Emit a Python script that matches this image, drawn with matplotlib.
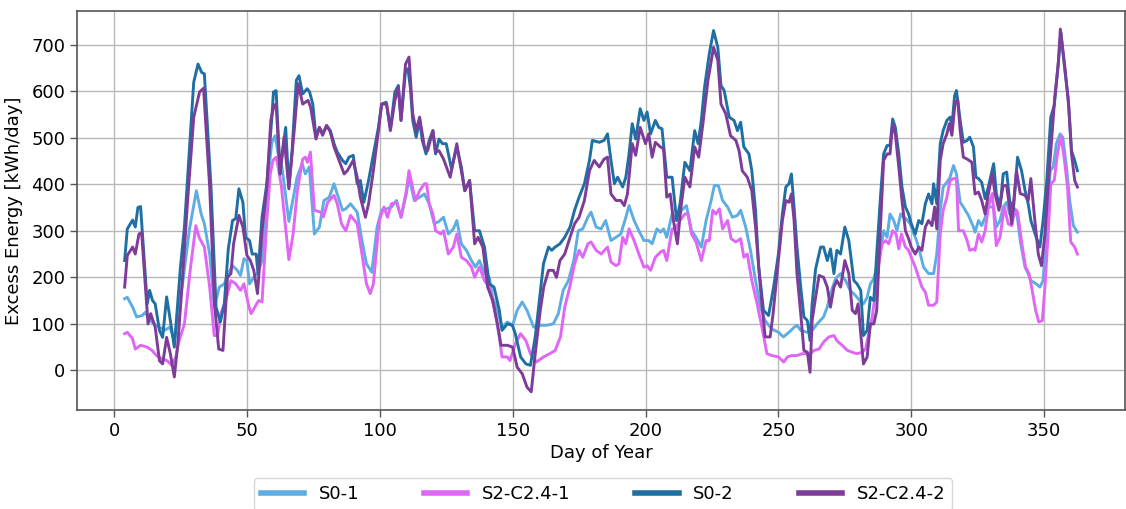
import matplotlib
matplotlib.use("Agg")
import matplotlib.pyplot as plt

# ---------------- data ----------------
labels = ["S0-1", "S2-C2.4-1", "S0-2", "S2-C2.4-2"]
colors = ["#5DADE2", "#E066F5", "#1F6FA3", "#7D3C98"]

s01_days = [4, 5, 7, 8.5, 10.6, 11.8, 13, 15, 17.1, 19, 21, 22.7, 25.8, 28.3, 31, 32.8, 34, 36, 37.8, 39.6,
            41.5, 43, 44.6, 46.4, 47.6, 48.9, 50, 51, 52.6, 54, 55.7, 57.5, 59.4, 60.6, 62, 63.2, 65.8, 68.9, 70.8, 72,
            73.5, 75.4, 77.3, 79, 81, 82.8, 84, 86, 87.2, 89, 91.5, 93.3, 95, 97, 99, 100.7, 102.6, 104.4, 106.3, 108,
            110, 111, 113, 115, 116.8, 118.6, 120.5, 122.3, 124, 125.8, 127.7, 129, 130.7, 132.6, 134.5, 136, 137.5, 139.4, 141.2, 142.5,
            144.3, 146, 148, 150, 151.7, 153.6, 155.4, 157.9, 160.4, 162.8, 165.3, 167.2, 169, 171, 173, 174.7, 176.4, 178.3, 179.5, 181.4,
            183.3, 185, 187, 188.9, 190.7, 192.6, 193.8, 195.7, 197.5, 199.4, 201.2, 202.5, 204.3, 205.6, 206.8, 208, 210, 211.7, 213.6, 215.4,
            217.3, 219, 221, 222.8, 224.7, 225.9, 227.4, 229, 230.9, 232.7, 234.6, 235.8, 237.7, 239.5, 241.4, 243.2, 245, 247.5, 250, 251.9,
            254, 256, 257, 258.4, 260.9, 262.7, 264.6, 267, 268.4, 269.6, 271.5, 273.4, 275.3, 277, 279, 281, 282, 283.4, 284.6, 285.9,
            287, 288.4, 289.6, 290.9, 292, 293.4, 294.6, 296, 297, 298, 299.6, 301, 302, 303.4, 304.6, 306.5, 308.4, 309.6, 310.9, 312,
            313.4, 314.6, 315.9, 317, 318.4, 319.6, 321.5, 323.4, 324, 325.3, 326.5, 327.8, 329, 331, 332, 333.4, 334.6, 335.9, 337, 338.4,
            339.6, 341, 342.8, 344, 345, 347, 348.4, 349.6, 351, 352.3, 353.4, 354.6, 356, 357, 358.4, 359.6, 361, 362.5]
s01_vals = [154, 157, 136, 115, 118, 125, 111, 100, 93, 86, 93, 64, 186, 300, 386, 336, 315, 250, 136, 179,
            186, 208, 225, 215, 204, 240, 236, 186, 200, 208, 236, 394, 490, 504, 458, 437, 320, 415, 444, 422,
            437, 293, 308, 365, 372, 401, 379, 344, 347, 358, 340, 279, 229, 211, 308, 344, 347, 351, 365, 329,
            379, 415, 365, 372, 379, 358, 315, 320, 329, 293, 304, 322, 272, 258, 236, 222, 236, 208, 200, 157,
            129, 93, 104, 97, 129, 147, 129, 93, 97, 97, 100, 122, 172, 193, 236, 300, 304, 329, 340, 308,
            304, 322, 279, 286, 293, 329, 354, 322, 300, 279, 279, 272, 304, 297, 304, 286, 336, 322, 344, 354,
            300, 286, 265, 322, 365, 397, 397, 365, 351, 329, 333, 344, 308, 258, 193, 136, 107, 89, 82, 72,
            82, 93, 97, 86, 82, 86, 100, 115, 136, 165, 197, 208, 193, 172, 161, 147, 143, 157, 186, 197,
            222, 258, 300, 286, 336, 322, 300, 336, 329, 326, 315, 293, 279, 250, 222, 208, 208, 250, 344, 394,
            404, 415, 440, 422, 361, 351, 333, 308, 297, 322, 311, 329, 351, 351, 308, 322, 351, 361, 336, 329,
            344, 279, 222, 208, 193, 186, 179, 193, 308, 429, 437, 487, 508, 501, 437, 365, 311, 297]

s2c1_days = [4, 5, 7, 8, 10, 12.5, 14.3, 16, 18, 20, 21.7, 23.3, 24.5, 26.5, 28.8, 30.8, 32, 34, 36, 37.7,
             39, 40.2, 42, 44, 45.8, 47.6, 48.9, 50.8, 51.6, 53, 54.4, 55.7, 57.5, 58.8, 59.8, 61, 62, 63, 65.8, 67.4,
             69, 71, 72, 72.8, 73.9, 75.4, 77.7, 78.8, 80.4, 82.8, 84, 85.6, 87.2, 89, 91.5, 93.3, 95, 96.4, 97.6, 99.8,
             101.6, 102.9, 104.4, 106.3, 108, 110, 111, 113.4, 115, 116.8, 117.6, 118.6, 120, 121, 123, 124, 125.8, 127.7, 129, 130.7,
             132.6, 134.5, 135.7, 137.5, 139.4, 141.2, 143, 145, 146, 148, 149, 151, 153, 155, 156.7, 159, 161.6, 164, 166, 168,
             169.6, 171.5, 173.3, 175, 176.4, 178.3, 179.5, 181.4, 183.3, 185.7, 187, 188.9, 190, 191.4, 192.6, 193.8, 195.7, 197.5, 199.4, 200.6,
             201.9, 203.7, 205.6, 206.8, 208, 210, 211.1, 213, 214.8, 216, 217.3, 219, 221, 222.8, 224, 225.3, 226.5, 227.8, 229, 230.9,
             232.2, 234, 235.8, 237, 238.3, 240, 242, 243.8, 245.7, 247.5, 250, 252, 253.4, 255, 257, 259, 260.9, 262, 263.4, 265.3,
             267, 269, 270.9, 272, 274, 276, 277.8, 279.6, 281.5, 282.8, 284, 285.3, 286.5, 287.8, 289, 290.3, 291.5, 293, 294.3, 295.3,
             296.3, 297.8, 299, 300, 301.5, 302.8, 304, 305.3, 306.5, 308.4, 309.6, 310.9, 312, 313.4, 314.6, 315.9, 317, 317.8, 319.6, 321,
             322, 323.4, 324, 325.3, 326.5, 327.8, 329, 330.5, 332, 333.4, 335, 336.5, 337.8, 339, 340, 341.8, 343, 344.3, 345.5, 346.8,
             348, 349.3, 350.3, 351.5, 352.5, 353.8, 355, 356.3, 357.5, 358.8, 360, 361.5, 362.5]
s2c1_vals = [79, 82, 68, 46, 54, 50, 43, 32, 25, 21, 11, 29, 64, 100, 222, 311, 286, 265, 179, 75,
             75, 122, 150, 193, 186, 172, 186, 136, 122, 136, 150, 147, 322, 422, 451, 458, 430, 394, 238, 293,
             386, 454, 458, 447, 469, 344, 340, 330, 361, 376, 358, 315, 300, 333, 315, 250, 186, 165, 186, 322,
             351, 329, 358, 361, 329, 386, 429, 365, 386, 401, 401, 358, 336, 300, 293, 300, 250, 265, 293, 243,
             236, 222, 200, 222, 193, 179, 136, 72, 29, 29, 21, 57, 79, 64, 36, 18, 29, 36, 43, 72,
             136, 179, 229, 258, 243, 272, 276, 258, 250, 265, 233, 225, 229, 286, 272, 304, 279, 250, 222, 225,
             215, 243, 254, 258, 236, 304, 304, 322, 336, 336, 293, 276, 236, 279, 279, 344, 336, 347, 304, 322,
             283, 276, 283, 243, 250, 193, 143, 93, 36, 32, 29, 18, 29, 32, 32, 36, 36, 36, 43, 46,
             61, 72, 75, 64, 54, 43, 39, 36, 39, 46, 79, 115, 165, 229, 272, 279, 272, 300, 293, 261,
             293, 265, 258, 243, 222, 200, 179, 168, 140, 140, 147, 293, 344, 372, 408, 412, 412, 300, 300, 279,
             258, 261, 258, 293, 276, 300, 351, 380, 268, 286, 351, 315, 311, 347, 340, 265, 222, 208, 172, 129,
             104, 107, 179, 293, 401, 408, 465, 504, 458, 394, 276, 265, 250]

s02_days = [4, 5, 7, 8, 9, 10, 12.5, 13.4, 14.5, 15.5, 17.1, 18.3, 19.8, 21.2, 22.7, 25, 26.5, 30, 31.6, 33,
            34, 36.5, 38.4, 40, 41.5, 43, 44.6, 45.8, 47, 48.5, 49.5, 51, 52, 53.5, 54.2, 55.7, 57.5, 59.4, 60, 61,
            62.5, 63, 64.6, 65.8, 67, 68.6, 69.6, 71, 72.7, 73.6, 74.8, 76, 77.3, 78.5, 80, 81.4, 82.8, 84, 86, 87.2,
            88.4, 90, 91.5, 92.7, 94, 95.8, 97.4, 99.5, 100.7, 102.4, 104, 105.7, 107, 108, 109.7, 110.6, 111.5, 112.4, 113.7, 115,
            116, 117.4, 118.6, 120, 121, 122.3, 123.6, 125, 127, 129, 130.7, 132, 133.8, 135.7, 137.5, 139.4, 141.2, 143, 145, 146,
            148, 149.9, 151, 153, 155, 156.7, 158.5, 161.6, 163.5, 164.7, 166, 167.8, 169.6, 171.6, 173.3, 175, 177, 178.9, 180, 182.6,
            184.4, 185.7, 187, 188.3, 189.5, 191.4, 192.6, 193.8, 195, 196.3, 198, 199.4, 200.6, 201.9, 203.7, 205, 206.2, 208, 210, 211.7,
            213, 214.8, 216.7, 218.5, 219.8, 221, 222.2, 224, 225.6, 227.2, 228.4, 229.6, 231.5, 233.3, 234.6, 235.8, 237, 238.9, 240, 241.4,
            242.6, 244.4, 246.3, 248.2, 250, 251.5, 252.8, 254, 254.9, 255.9, 257, 258.4, 259.6, 260.9, 261.9, 262.7, 264, 265.9, 267, 268.4,
            269.6, 270.9, 272, 273.4, 275, 276.5, 278.4, 279.6, 281, 282, 283.4, 284.6, 285.9, 287, 288.4, 289.6, 290.9, 292, 293, 294,
            295.3, 296.5, 297.8, 299, 300, 301.5, 302.8, 304, 305.3, 306.5, 307.8, 308.4, 309.6, 310.9, 312, 313.4, 314.6, 315.3, 316.3, 317,
            318.4, 319.6, 321, 322, 323.4, 324.3, 325.3, 326.5, 327.8, 329, 331, 332, 333.4, 334.6, 335.9, 337, 338.4, 340, 341.5, 342.8,
            344, 345, 347, 348.4, 349.6, 351, 352.5, 353.8, 355.3, 356.3, 357.8, 359, 360.3, 361.5, 362.5]
s02_vals = [236, 304, 323, 308, 350, 352, 143, 172, 150, 143, 86, 71, 158, 107, 50, 222, 308, 619, 658, 640,
            637, 394, 136, 104, 143, 261, 322, 326, 390, 361, 286, 279, 250, 250, 208, 329, 401, 544, 598, 601,
            422, 451, 522, 394, 472, 623, 633, 594, 605, 598, 572, 501, 522, 508, 526, 515, 487, 469, 451, 444,
            458, 462, 401, 408, 361, 408, 458, 522, 572, 576, 519, 598, 612, 537, 644, 648, 608, 537, 501, 537,
            494, 465, 494, 515, 465, 497, 487, 487, 433, 480, 437, 386, 408, 300, 300, 265, 186, 179, 129, 86,
            100, 97, 79, 29, 14, 11, 72, 229, 265, 258, 265, 272, 286, 308, 344, 372, 401, 451, 494, 490,
            494, 508, 451, 401, 415, 394, 415, 465, 530, 497, 562, 537, 555, 508, 537, 522, 519, 415, 415, 322,
            358, 447, 429, 515, 487, 537, 608, 680, 730, 694, 612, 601, 544, 537, 515, 533, 480, 465, 429, 344,
            222, 129, 118, 179, 250, 336, 394, 401, 422, 351, 265, 179, 115, 107, 64, 143, 218, 265, 265, 236,
            261, 208, 258, 250, 308, 279, 193, 186, 172, 75, 86, 157, 150, 250, 372, 465, 483, 483, 540, 522,
            465, 394, 351, 336, 315, 293, 322, 315, 358, 379, 358, 401, 358, 487, 515, 537, 544, 525, 590, 601,
            537, 490, 494, 501, 480, 415, 412, 404, 369, 394, 444, 380, 351, 422, 426, 365, 344, 458, 429, 387,
            358, 322, 286, 265, 322, 408, 544, 569, 658, 726, 644, 587, 472, 451, 429]

s2c2_days = [4, 5, 7, 8, 9.4, 10.4, 12.8, 13.8, 15.5, 17.1, 18.3, 19.8, 21.2, 22.7, 24, 25.2, 27.7, 30, 32.2, 33.7,
             36, 37.8, 39.4, 41, 42.7, 44, 45, 47, 48.5, 50, 51.3, 52.6, 54, 55.7, 57.5, 59, 60.2, 61, 62.5, 64,
             65.8, 67.8, 69.3, 71, 73, 74, 76, 77.3, 78.5, 80, 81.4, 82.8, 84.7, 86.6, 87.8, 90, 91.5, 92.7, 94.6, 95.8,
             97.6, 99.5, 100.7, 102.6, 104, 105.7, 107, 108, 109.7, 111, 112.4, 113.7, 115, 116.8, 118, 120, 121, 122.3, 124, 126.5,
             129, 130, 132, 133.8, 135.7, 137, 138.8, 140.6, 142.5, 144.3, 145.6, 148, 150, 151.7, 153.6, 155.4, 157, 158.5, 160.4, 161.7,
             163.5, 165.3, 166.5, 167.8, 169.6, 171.6, 173.3, 175, 177, 178.9, 180.7, 182.6, 184.4, 185.7, 187, 188.9, 190.7, 192, 193.2, 195,
             196.3, 198, 200, 201.2, 202.5, 203.7, 205.6, 206.8, 208, 209.3, 210.5, 212, 213.2, 214.8, 216.7, 218.5, 220, 221.6, 223.5, 225.6,
             227.2, 228.4, 230.2, 232, 234, 235.2, 236.4, 238.3, 240, 241.4, 243.2, 245, 246.9, 248, 250, 251.5, 252.8, 254, 254.9, 255.9,
             257, 258.4, 259.6, 260.9, 261.9, 262.7, 264, 265.3, 267, 268.4, 269.6, 270.9, 272, 273.4, 275, 276.5, 277.8, 279, 280, 281,
             282, 283.4, 284.6, 285.9, 287, 288.4, 289.6, 290.9, 292, 293, 294, 295.3, 296.5, 297.8, 299, 300, 301.5, 302.8, 304, 305.3,
             306.5, 307.8, 308.8, 309.6, 310.9, 312, 313.4, 314.3, 315.3, 316.5, 317.5, 318.4, 319.6, 321, 322.8, 324, 325.3, 326.5, 327.8, 329,
             330.5, 331.5, 333, 334.6, 335.9, 337.8, 339.6, 341, 342.8, 344, 345, 346.5, 347.8, 349, 350.3, 351.5, 352.8, 354, 355.3, 356.1,
             357.8, 359.3, 360.3, 361.5, 362.5]
s2c2_vals = [179, 247, 265, 250, 293, 296, 100, 122, 93, 21, 14, 71, 36, -14, 57, 150, 365, 544, 598, 606,
             394, 143, 46, 43, 200, 208, 272, 333, 308, 247, 236, 215, 165, 300, 394, 537, 569, 572, 422, 501,
             390, 515, 616, 572, 580, 565, 497, 522, 505, 526, 512, 480, 451, 422, 429, 451, 415, 372, 329, 358,
             429, 515, 572, 572, 515, 580, 608, 537, 658, 673, 551, 515, 544, 480, 472, 515, 469, 472, 454, 415,
             487, 451, 386, 408, 272, 286, 265, 179, 150, 100, 54, 54, 50, 7, -7, -36, -46, 36, 129, 179,
             215, 215, 200, 236, 250, 286, 315, 329, 365, 429, 451, 437, 454, 458, 379, 365, 365, 354, 379, 487,
             462, 522, 487, 508, 458, 490, 480, 476, 372, 379, 322, 272, 344, 415, 394, 480, 458, 530, 623, 694,
             666, 572, 551, 504, 494, 472, 429, 415, 386, 308, 179, 72, 72, 122, 236, 322, 365, 361, 379, 322,
             208, 122, 43, 39, -4, 107, 157, 204, 200, 179, 136, 179, 193, 179, 236, 208, 129, 122, 143, 79,
             14, 29, 100, 100, 129, 308, 451, 465, 465, 530, 508, 437, 365, 300, 283, 265, 250, 265, 258, 308,
             322, 311, 351, 304, 451, 487, 508, 530, 505, 576, 580, 515, 458, 454, 447, 379, 383, 365, 336, 379,
             422, 380, 344, 397, 397, 315, 429, 380, 376, 365, 412, 322, 250, 225, 293, 394, 494, 587, 658, 733,
             651, 565, 465, 408, 394]

series_days = [s01_days, s2c1_days, s02_days, s2c2_days]
series_vals = [s01_vals, s2c1_vals, s02_vals, s2c2_vals]

# ---------------- figure ----------------
W, H = 1126, 509
fig = plt.figure(figsize=(W / 100, H / 100), dpi=100)
ax = fig.add_axes([77 / W, 1 - 410 / H, (1125 - 77) / W, (410 - 11) / H])

for d, v, lab, c in zip(series_days, series_vals, labels, colors):
    ax.plot(d, v, color=c, lw=2.1, label=lab)

ax.grid(True, color="#b8b8b8", lw=1.0)
ax.set_axisbelow(True)
for s in ax.spines.values():
    s.set_color("#555555")
    s.set_linewidth(1.2)
ax.tick_params(axis="both", labelsize=13, color="#555555", length=5, width=1.0)
ax.set_xticks([0, 50, 100, 150, 200, 250, 300, 350])
ax.set_yticks([0, 100, 200, 300, 400, 500, 600, 700])
ax.set_xlabel("Day of Year", fontsize=13, labelpad=3)
ax.set_ylabel("Excess Energy [kWh/day]", fontsize=13, labelpad=6)

handles, labs = ax.get_legend_handles_labels()
leg = fig.legend(handles, labs, loc="upper center", bbox_to_anchor=(603 / W, 1 - 478 / H),
                 bbox_transform=fig.transFigure, ncol=4, fontsize=13, frameon=True,
                 handlelength=2.4, columnspacing=3.6, borderaxespad=0.0)
for ln in leg.get_lines():
    ln.set_linewidth(4)

fig.savefig("out.png", dpi=100)
